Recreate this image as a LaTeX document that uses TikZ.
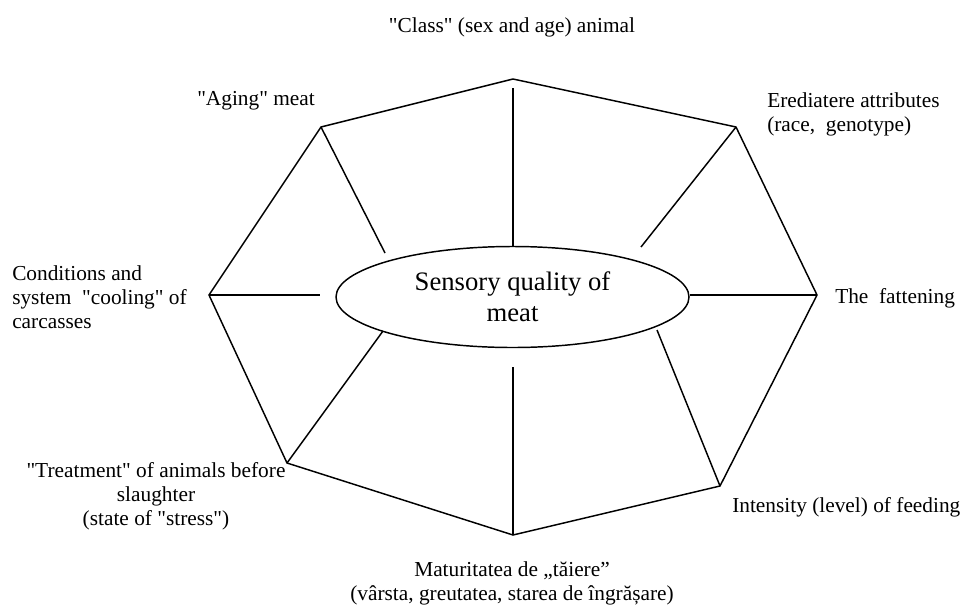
\documentclass[tikz,border=0pt]{standalone}
\usepackage{fontspec}
\setmainfont{Liberation Serif}[Ligatures=TeXOff]
\usepackage{tikz}
\usetikzlibrary{shapes.geometric}

\begin{document}
\begin{tikzpicture}[
    x=0.75pt, y=-0.75pt,
    rim/.style={draw=black, line width=1.1pt, line join=miter},
    spoke/.style={draw=black, line width=1.1pt},
    hub/.style={draw=black, line width=1.1pt, ellipse, minimum width=264.75pt, minimum height=75.75pt, inner sep=0pt, align=center, font=\fontsize{20}{23.25}\selectfont},
    factor/.style={inner sep=0pt, font=\fontsize{16}{18}\selectfont}
]
\useasboundingbox (0,0) rectangle (962,607);
% corners of the octagon
\coordinate (vT)  at (513,79);
\coordinate (vUR) at (736,127);
\coordinate (vR)  at (817,295);
\coordinate (vLR) at (720,486);
\coordinate (vB)  at (513,535);
\coordinate (vLL) at (287,463);
\coordinate (vL)  at (209,295);
\coordinate (vUL) at (321,127);
\draw[rim] (vT) -- (vUR) -- (vR) -- (vLR) -- (vB) -- (vLL) -- (vL) -- (vUL) -- cycle;
% centre
\node[hub] (hub) at (512.5,297) {Sensory quality of\\meat};
% inner ends of the spokes
\coordinate (sT0) at (513,88);
\coordinate (sT)  at (513,247);
\coordinate (sUR) at (641,247);
\coordinate (sLR) at (657,330);
\coordinate (sB)  at (513,367);
\coordinate (sLL) at (383,331);
\coordinate (sL)  at (320,295);
\coordinate (sUL) at (385,253);
\draw[spoke] (sT0) -- (sT);
\draw[spoke] (vUR) -- (sUR);
\draw[spoke] (vR) -- (hub.east |- vR);
\draw[spoke] (vLR) -- (sLR);
\draw[spoke] (vB) -- (sB);
\draw[spoke] (vLL) -- (sLL);
\draw[spoke] (vL) -- (sL);
\draw[spoke] (vUL) -- (sUL);
% factors
\node[factor] (class) at (512,27) {"Class" (sex and age) animal};
\node[factor, anchor=west, align=left] (heredity) at (767,114.5) {Erediatere attributes\\(race, \ genotype)};
\node[factor, anchor=west] (fatten) at (835,298) {The \ fattening};
\node[factor, anchor=west] (feeding) at (732,507) {Intensity (level) of feeding};
\node[factor, align=center] (maturity) at (512,583.5) {Maturitatea de „tăiere”\\(vârsta, greutatea, starea de îngrășare)};
\node[factor, align=center] (treatment) at (156,496) {"Treatment" of animals before\\slaughter\\(state of "stress")};
\node[factor, anchor=west, align=left] (cooling) at (12,297.5) {Conditions and\\system \ "cooling" of\\carcasses};
\node[factor, anchor=west] (aging) at (197,101) {"Aging" meat};
\end{tikzpicture}
\end{document}
